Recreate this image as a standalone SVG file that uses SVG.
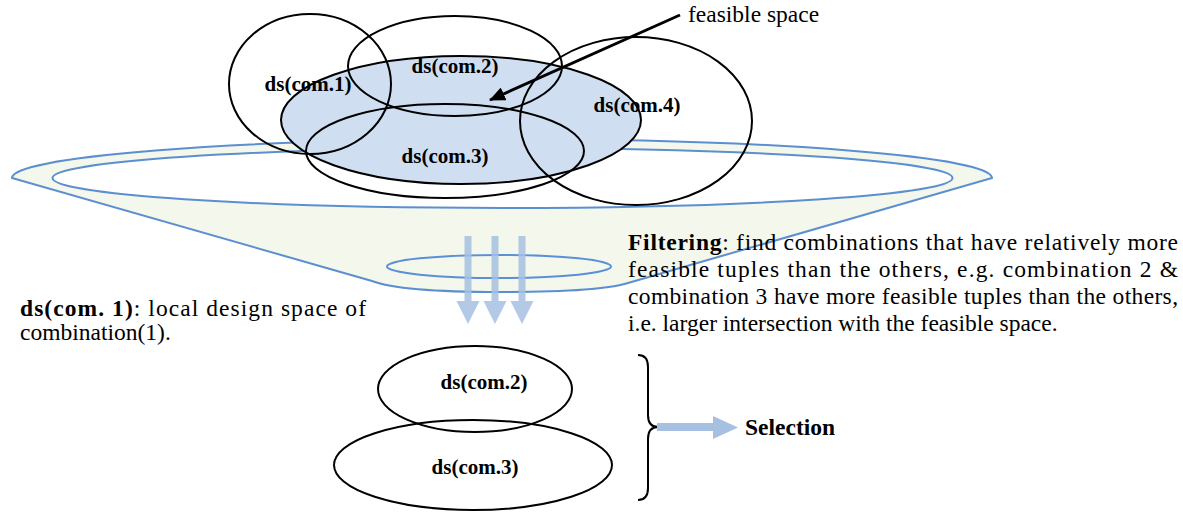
<svg xmlns="http://www.w3.org/2000/svg" width="1183" height="517" viewBox="0 0 1183 517">
<defs>
<style>
.lbl{font-family:"Liberation Serif","Times New Roman",serif;font-weight:bold;font-size:21px;fill:#000;text-anchor:middle}
.para{font-family:"Liberation Serif","Times New Roman",serif;font-size:23.5px;fill:#000}
.b{font-weight:bold}
.ds{fill:none;stroke:#000;stroke-width:2}
.funnel{stroke:#5C8FD0;stroke-width:2}
.thick{fill:#A6C0E2}
</style>
<marker id="ah" markerWidth="16" markerHeight="14" refX="15" refY="7" orient="auto" markerUnits="userSpaceOnUse">
<polygon points="0,0 16,7 0,14" fill="#000"/>
</marker>
</defs>
<rect width="1183" height="517" fill="#fff"/>

<g id="funnel">
<path class="funnel" fill="#F3F7EC" d="M12,178 A490,39 0 0 1 992,178 L628,283 Q600,292 500,292 Q400,292 372,281 Z"/>
<ellipse class="funnel" cx="502.5" cy="178" rx="450" ry="30" fill="#fff"/>
<ellipse cx="499" cy="266.5" rx="112" ry="11.5" fill="none" stroke="#5B8FD8" stroke-width="2"/>
</g>

<g id="filter-arrows" opacity="0.85">
<rect class="thick" x="464.5" y="236" width="7" height="66"/>
<polygon class="thick" points="456.5,301 479.5,301 468,324"/>
<rect class="thick" x="491.5" y="236" width="7" height="66"/>
<polygon class="thick" points="483.5,301 506.5,301 495,324"/>
<rect class="thick" x="518.5" y="236" width="7" height="66"/>
<polygon class="thick" points="510.5,301 533.5,301 522,324"/>
</g>

<g id="feasible">
<ellipse cx="461" cy="120" rx="180" ry="64" fill="#CFDFF1" stroke="#000" stroke-width="2"/>
</g>
<g id="com1"><ellipse class="ds" cx="310" cy="84" rx="81" ry="70"/><text class="lbl" x="308" y="91">ds(com.1)</text></g>
<g id="com2"><ellipse class="ds" cx="455" cy="66" rx="107" ry="50"/><text class="lbl" x="455" y="73">ds(com.2)</text></g>
<g id="com4"><ellipse class="ds" cx="636" cy="121" rx="116" ry="84"/><text class="lbl" x="637" y="112">ds(com.4)</text></g>
<g id="com3"><ellipse class="ds" cx="445" cy="151" rx="139" ry="47"/><text class="lbl" x="445" y="163">ds(com.3)</text></g>

<g id="connectors">
<line x1="680" y1="15" x2="490" y2="100" stroke="#000" stroke-width="3" marker-end="url(#ah)"/>
</g>
<text class="para" x="688" y="22">feasible space</text>

<g id="desc-left">
<text class="para" x="20" y="316" textLength="346" lengthAdjust="spacing"><tspan class="b">ds(com. 1)</tspan>: local design space of</text>
<text class="para" x="20" y="340">combination(1).</text>
</g>

<g id="desc-filter">
<text class="para" x="628" y="250" textLength="550" lengthAdjust="spacing"><tspan class="b">Filtering</tspan>: find combinations that have relatively more</text>
<text class="para" x="628" y="277" textLength="550" lengthAdjust="spacing">feasible tuples than the others, e.g. combination 2 &amp;</text>
<text class="para" x="628" y="304" textLength="550" lengthAdjust="spacing">combination 3 have more feasible tuples than the others,</text>
<text class="para" x="628" y="331">i.e. larger intersection with the feasible space.</text>
</g>

<g id="sel-com2"><ellipse class="ds" cx="475" cy="389" rx="97" ry="43"/><text class="lbl" x="484" y="389">ds(com.2)</text></g>
<g id="sel-com3"><ellipse class="ds" cx="473" cy="465" rx="139" ry="45"/><text class="lbl" x="475" y="474">ds(com.3)</text></g>

<g id="brace">
<path d="M638,355 Q648,355 648,367 L648,415 Q648,427 658,427 Q648,427 648,439 L648,488 Q648,500 638,500" fill="none" stroke="#000" stroke-width="2"/>
</g>
<g id="selection">
<rect class="thick" x="657" y="423" width="57" height="8"/>
<polygon class="thick" points="713,416 713,439 738,427.5"/>
<text x="745" y="435" font-family="Liberation Serif, Times New Roman, serif" font-weight="bold" font-size="23.5">Selection</text>
</g>
</svg>
